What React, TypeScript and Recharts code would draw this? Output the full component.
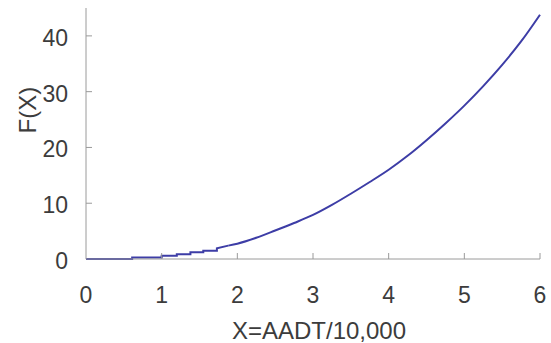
import React from "react";
import { LineChart, Line, XAxis, YAxis } from "recharts";

// low part of the curve: small visible steps
const stepX = [0, 0.61, 0.61, 1.0, 1.0, 1.2, 1.2, 1.38, 1.38, 1.55, 1.55, 1.73, 1.73, 1.88];
const stepF = [0, 0, 0.25, 0.25, 0.6, 0.6, 0.85, 0.85, 1.2, 1.2, 1.5, 1.5, 1.9, 2.4];
// upper part of the curve
const curveX = [1.88, 2.0, 2.25, 2.5, 2.75, 3.0, 3.25, 3.5, 3.75, 4.0, 4.25, 4.5, 4.75, 5.0, 5.25, 5.5, 5.75, 6.0];
const curveF = [2.4, 2.75, 3.8, 5.1, 6.45, 7.9, 9.7, 11.7, 13.8, 16.0, 18.5, 21.3, 24.3, 27.5, 31.0, 34.8, 39.0, 43.8];
const xTicks = [0, 1, 2, 3, 4, 5, 6];
const yTicks = [0, 10, 20, 30, 40];
const xLabel = "X=AADT/10,000";
const yLabel = "F(X)";

const stepData = stepX.map((x, i) => ({ x, f: stepF[i] }));
const curveData = curveX.map((x, i) => ({ x, f: curveF[i] }));

const TEXT = "#3c3c3c";
const AXIS = "#9a9a9a";
const LINE = "#3d3da6";
const FONT = "Arial, 'Liberation Sans', sans-serif";

const YTick = (props: any) => {
  const { x, y, payload } = props;
  return (
    <g>
      {payload.value !== 0 && <line x1={x + 18} x2={x + 24} y1={y} y2={y} stroke={AXIS} strokeWidth={1} />}
      <text x={x} y={y} dy={10} textAnchor="end" fill={TEXT} fontSize={23} fontFamily={FONT}>
        {payload.value}
      </text>
    </g>
  );
};

const XTick = (props: any) => {
  const { x, y, payload } = props;
  return (
    <g>
      {payload.value !== 0 && <line x1={x} x2={x} y1={y} y2={y - 6} stroke={AXIS} strokeWidth={1} />}
      <text x={x} y={y} dy={44} textAnchor="middle" fill={TEXT} fontSize={23} fontFamily={FONT}>
        {payload.value}
      </text>
    </g>
  );
};

export default function App() {
  return (
    <div style={{ position: "absolute", left: 0, top: 0, width: 551, height: 343, background: "#fff" }}>
      <LineChart width={551} height={343} margin={{ top: 8, right: 11, bottom: 0, left: 0 }}>
        <XAxis
          dataKey="x"
          type="number"
          domain={[0, 6]}
          ticks={xTicks}
          height={84}
          tickLine={false}
          tickSize={0}
          tickMargin={0}
          stroke={AXIS}
          tick={<XTick />}
          allowDuplicatedCategory={false}
          label={{ value: xLabel, position: "insideBottom", offset: 4, dx: 6, fill: TEXT, fontSize: 24, fontFamily: FONT }}
        />
        <YAxis
          type="number"
          domain={[0, 45]}
          ticks={yTicks}
          width={86}
          tickLine={false}
          tickSize={0}
          tickMargin={18}
          stroke={AXIS}
          tick={<YTick />}
          label={{ value: yLabel, angle: -90, position: "insideLeft", offset: 27, fill: TEXT, fontSize: 24, fontFamily: FONT }}
        />
        <Line
          data={stepData}
          dataKey="f"
          type="linear"
          stroke={LINE}
          strokeWidth={2}
          dot={false}
          isAnimationActive={false}
        />
        <Line
          data={curveData}
          dataKey="f"
          type="monotone"
          stroke={LINE}
          strokeWidth={2}
          dot={false}
          isAnimationActive={false}
        />
      </LineChart>
    </div>
  );
}
